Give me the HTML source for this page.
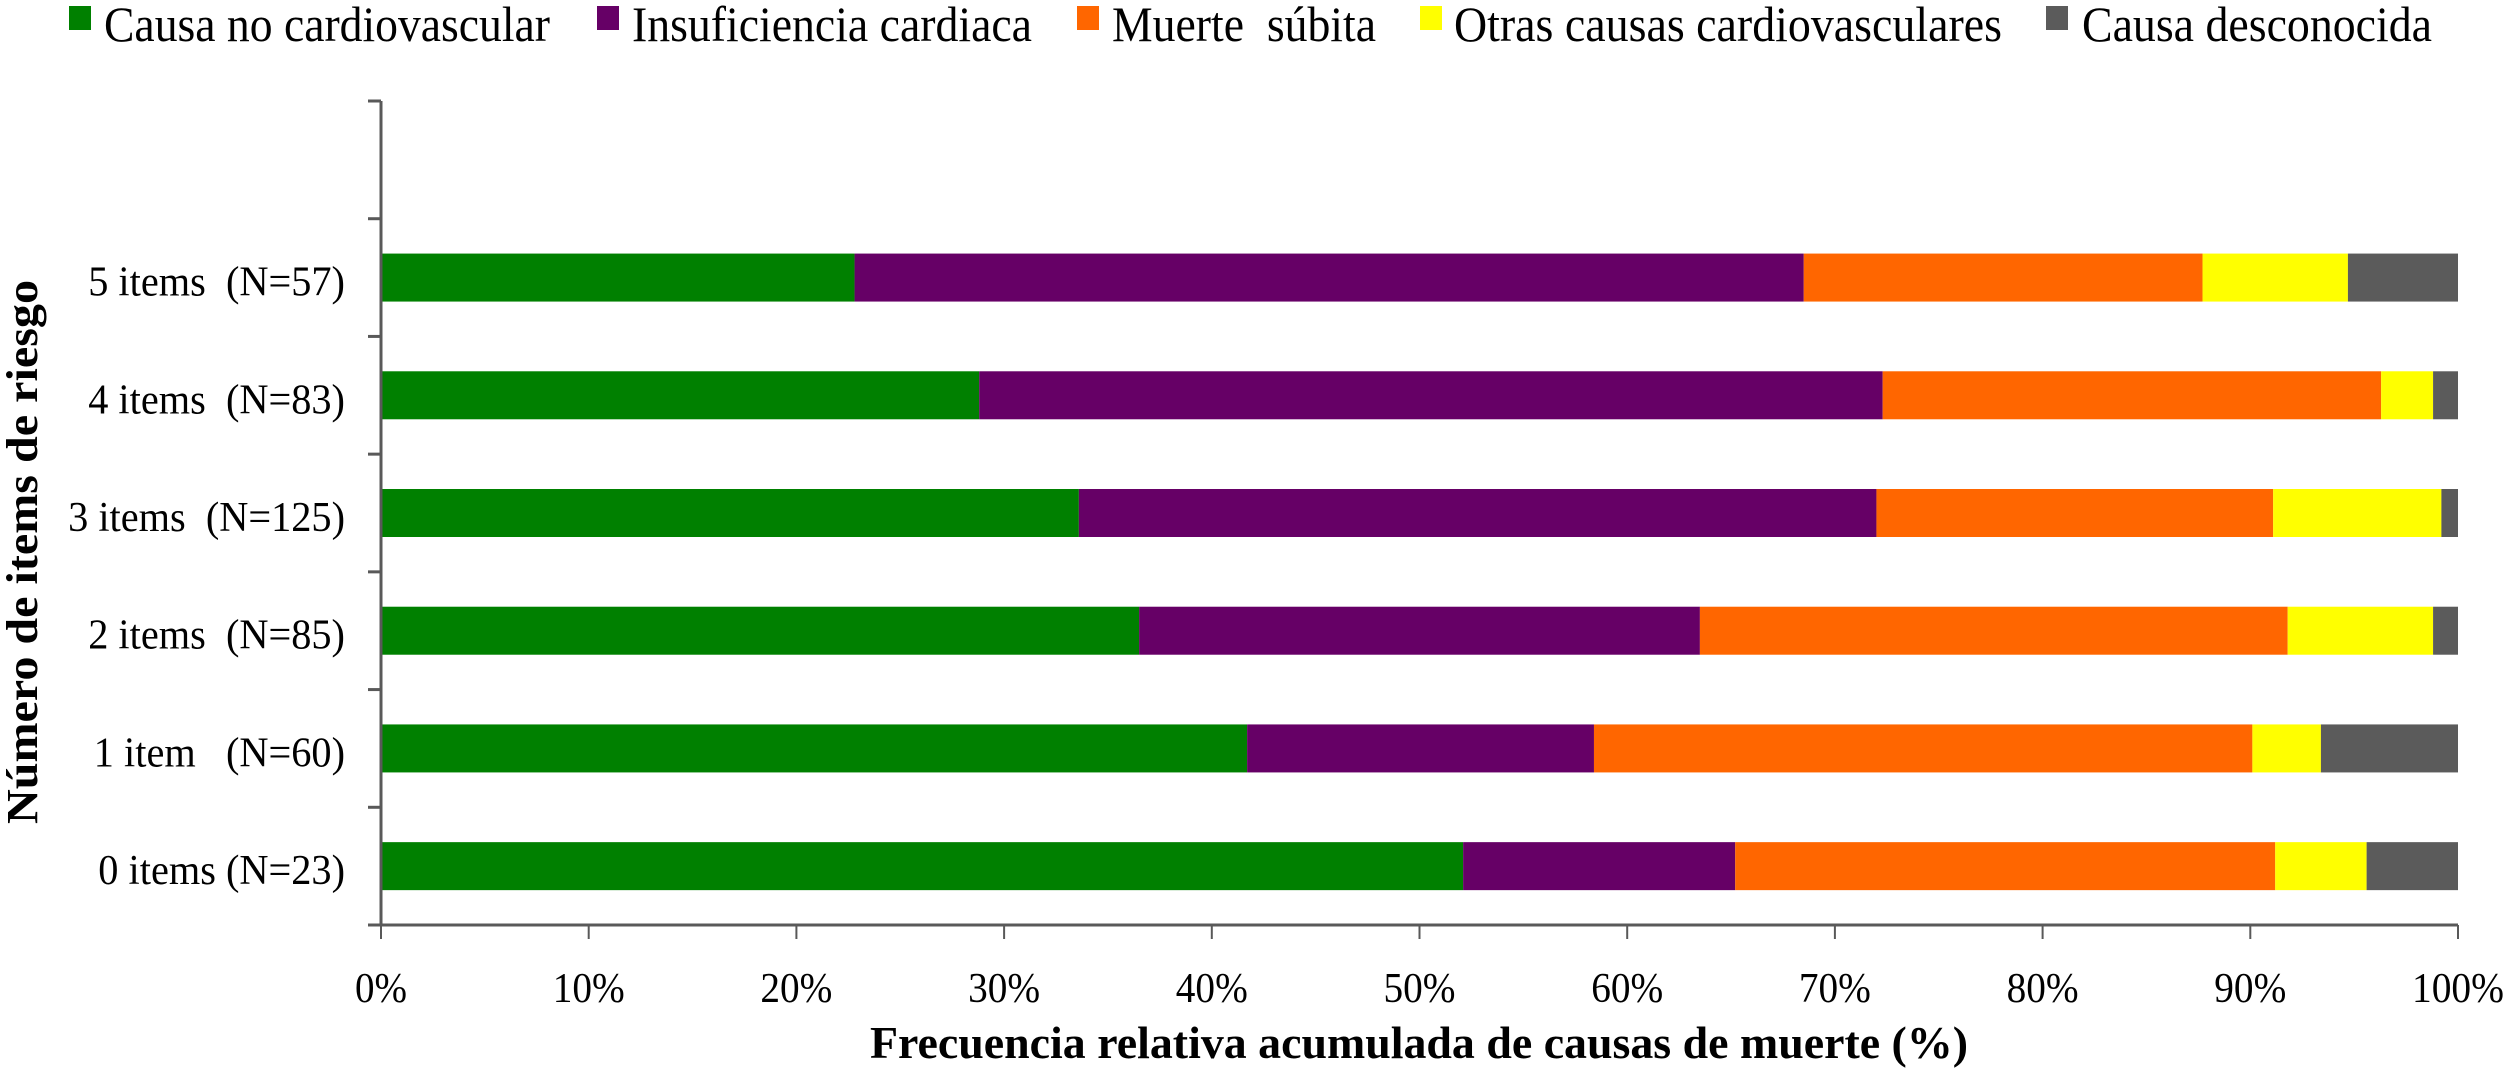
<!DOCTYPE html>
<html><head><meta charset="utf-8"><style>
html,body{margin:0;padding:0;background:#fff}
svg{display:block}
text{font-family:"Liberation Serif",serif;fill:#000}
</style></head><body>
<svg id="chart" width="2508" height="1068" viewBox="0 0 2508 1068" xmlns="http://www.w3.org/2000/svg">
<g id="legend"></g>
<g id="bars"></g>
<g id="axes"></g>
<text x="1419" y="1058" text-anchor="middle" font-weight="bold" font-size="46" textLength="1098" lengthAdjust="spacingAndGlyphs">Frecuencia relativa acumulada de causas de muerte (%)</text>
<text transform="translate(37,552) rotate(-90)" text-anchor="middle" font-weight="bold" font-size="44" textLength="544" lengthAdjust="spacingAndGlyphs">Número de items de riesgo</text>
</svg>
<script>
const categories = ["0 items (N=23)", "1 item   (N=60)", "2 items  (N=85)", "3 items  (N=125)", "4 items  (N=83)", "5 items  (N=57)"];
const seriesNames = ["Causa no cardiovascular", "Insuficiencia cardiaca", "Muerte  súbita", "Otras causas cardiovasculares", "Causa desconocida"];
const noCardio = [52.1, 41.7, 36.5, 33.6, 28.8, 22.8];
const insuf = [13.1, 16.7, 27.0, 38.4, 43.5, 45.7];
const subita = [26.0, 31.7, 28.3, 19.1, 24.0, 19.2];
const otras = [4.4, 3.3, 7.0, 8.1, 2.5, 7.0];
const desconocida = [4.4, 6.6, 1.2, 0.8, 1.2, 5.3];
const xTicks = [0,10,20,30,40,50,60,70,80,90,100];
const colors = ["#008000","#660066","#FF6600","#FFFF00","#5B5B5B"];

const NS = "http://www.w3.org/2000/svg";
const X0 = 381, X1 = 2458, YT = 101, YB = 925;
const nSlots = 7;
const slotH = (YB - YT) / nSlots;
const xs = v => X0 + (X1 - X0) * v / 100;
const yc = i => YB - slotH * (i + 0.5);
const barH = 48;
function mk(tag, attrs, parent){const e=document.createElementNS(NS,tag);for(const k in attrs)e.setAttribute(k,attrs[k]);parent.appendChild(e);return e;}

const series = [noCardio, insuf, subita, otras, desconocida];
const bars = document.getElementById('bars');
const keys = ["no-cardiovascular","insuficiencia","muerte-subita","otras-causas","desconocida"];
categories.forEach((c, i) => {
  let acc = 0;
  series.forEach((s, k) => {
    const r = mk('rect', {x: xs(acc), y: yc(i) - barH/2, width: xs(acc + s[i]) - xs(acc), height: barH, fill: colors[k]}, bars);
    
    
    acc += s[i];
  });
});

const axes = document.getElementById('axes');
let l = mk('line', {x1: X0, y1: YT, x2: X0, y2: YB + 1.5, stroke: '#595959', 'stroke-width': 3}, axes);


l = mk('line', {x1: X0, y1: YB, x2: X1, y2: YB, stroke: '#595959', 'stroke-width': 3}, axes);


for (let j = 0; j <= nSlots; j++) {
  const t = mk('line', {x1: 368, y1: YB - slotH * j, x2: X0, y2: YB - slotH * j, stroke: '#595959', 'stroke-width': 3}, axes);
  
  
}
xTicks.forEach(v => {
  const t = mk('line', {x1: xs(v), y1: YB, x2: xs(v), y2: 939, stroke: '#595959', 'stroke-width': 2}, axes);
  
  
  const tx = mk('text', {x: xs(v), y: 1002, 'text-anchor': 'middle', 'font-size': 42, textLength: v === 100 ? 92 : (v === 0 ? 52 : 72), lengthAdjust: 'spacingAndGlyphs'}, axes);
  tx.textContent = v + '%';
  
  
});
categories.forEach((c, i) => {
  const tx = mk('text', {x: 345, y: yc(i) + 18, 'text-anchor': 'end', 'font-size': 42}, axes);
  tx.setAttribute('style', 'white-space:pre');
  tx.textContent = c;
  
  
  const w = tx.getComputedTextLength();
  tx.setAttribute('textLength', (w * 0.96).toFixed(1));
  tx.setAttribute('lengthAdjust', 'spacingAndGlyphs');
});

const legend = document.getElementById('legend');
const legSq = [69, 597, 1077, 1420, 2046];
const legTx = [104, 632, 1112, 1454, 2082];
const legW = [446, 400, 264, 548, 350];
seriesNames.forEach((n, k) => {
  const g = mk('g', {}, legend);
  
  
  const r = mk('rect', {x: legSq[k], y: 6, width: 22, height: 24, fill: colors[k]}, g);
  
  
  const t = mk('text', {x: legTx[k], y: 41, 'font-size': 50, textLength: legW[k], lengthAdjust: 'spacingAndGlyphs'}, g);
  t.setAttribute('style', 'white-space:pre');
  t.textContent = n;
  
  
});
</script>
</body></html>
